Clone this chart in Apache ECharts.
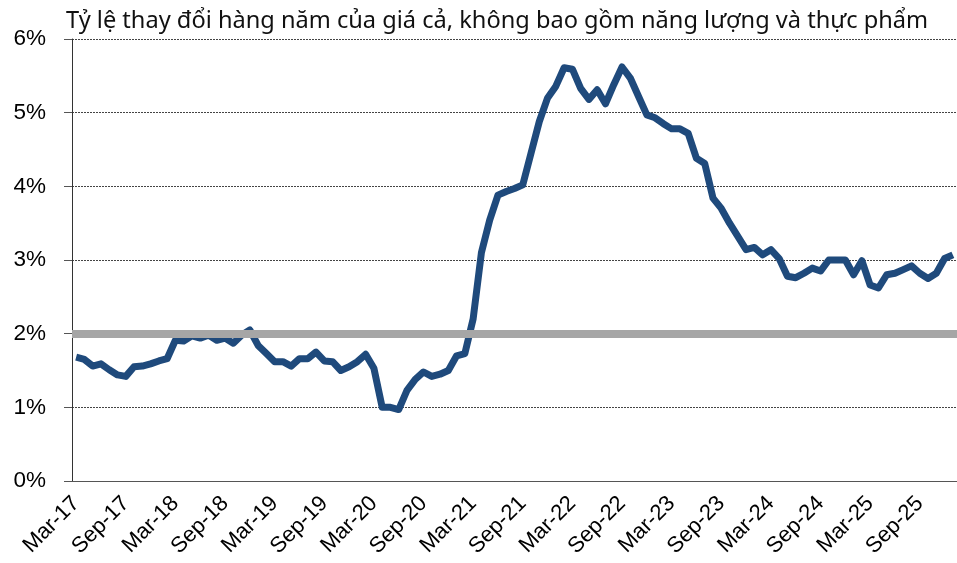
<!DOCTYPE html>
<html>
<head>
<meta charset="utf-8">
<script src="https://cdn.jsdelivr.net/npm/echarts@6/dist/echarts.min.js"></script>
<style>
  html, body { margin: 0; padding: 0; background: #fff; }
  #chart { width: 957px; height: 563px; }
</style>
</head>
<body>
<div id="chart"></div>
<script>
// monthly, Mar-17 .. Jan-26
const monthNames = ['Jan', 'Feb', 'Mar', 'Apr', 'May', 'Jun', 'Jul', 'Aug', 'Sep', 'Oct', 'Nov', 'Dec']
const startYear = 2017
const startMonth = 2 // Mar
const monthCount = 107

const coreRate = [
  1.68, 1.65, 1.56, 1.59, 1.51, 1.44, 1.42, 1.55, 1.56, 1.59,
  1.63, 1.66, 1.91, 1.90, 1.97, 1.94, 1.98, 1.91, 1.94, 1.87, 1.98, 2.05,
  1.84, 1.73, 1.62, 1.62, 1.56, 1.66, 1.66, 1.75, 1.63, 1.62, 1.50, 1.55,
  1.62, 1.72, 1.53, 1.00, 1.00, 0.97, 1.23, 1.38, 1.48, 1.42, 1.45, 1.50,
  1.70, 1.73, 2.20, 3.10, 3.54, 3.88, 3.93, 3.97, 4.02, 4.45, 4.88, 5.20,
  5.36, 5.61, 5.59, 5.33, 5.18, 5.31, 5.12, 5.38, 5.62, 5.47, 5.22, 4.97,
  4.93, 4.85, 4.78, 4.78, 4.72, 4.38, 4.31, 3.84, 3.70, 3.50, 3.32, 3.14,
  3.17, 3.07, 3.14, 3.02, 2.78, 2.76, 2.82, 2.89, 2.85, 3.00, 3.00, 3.00,
  2.80, 2.99, 2.66, 2.62, 2.80, 2.82, 2.87, 2.92, 2.82, 2.75, 2.82, 3.02,
  3.07
]
const targetRate = 2
const titleText = 'Tỷ lệ thay đổi hàng năm của giá cả, không bao gồm năng lượng và thực phẩm'

const categories = []
for (let i = 0; i < monthCount; i++) {
  const m = (startMonth + i) % 12
  const y = startYear + Math.floor((startMonth + i) / 12)
  categories.push(monthNames[m] + '-' + String(y).slice(2))
}

const chart = echarts.init(document.getElementById('chart'))
const option = {
  backgroundColor: '#ffffff',
  animation: false,
  title: {
    text: titleText,
    left: 61,
    top: 4,
    textStyle: {
      fontFamily: 'Noto Sans',
      fontWeight: 'normal',
      fontSize: 23.6,
      color: '#111'
    }
  },
  grid: {
    left: 72,
    right: 0,
    top: 39,
    bottom: 82,
    containLabel: false
  },
  xAxis: {
    type: 'category',
    data: categories,
    boundaryGap: true,
    axisLine: {
      lineStyle: { color: '#555', width: 1 }
    },
    axisTick: {
      interval: 5,
      length: 6,
      lineStyle: { color: '#555' }
    },
    axisLabel: {
      interval: 5,
      rotate: 45,
      margin: 19,
      fontFamily: 'Liberation Sans',
      fontSize: 22,
      color: '#000'
    },
    splitLine: { show: false }
  },
  yAxis: {
    type: 'value',
    min: 0,
    max: 6,
    interval: 1,
    axisLine: {
      show: true,
      lineStyle: { color: '#333', width: 1 }
    },
    axisTick: {
      show: true,
      length: 8,
      lineStyle: { color: '#555' }
    },
    axisLabel: {
      formatter: '{value}%',
      margin: 26,
      fontFamily: 'Liberation Sans',
      fontSize: 22.5,
      color: '#000'
    },
    splitLine: {
      lineStyle: { color: '#444', width: 1, type: [2, 1] }
    }
  },
  series: [
    {
      name: 'core',
      type: 'line',
      data: coreRate,
      showSymbol: false,
      symbol: 'none',
      z: 2,
      lineStyle: {
        color: '#1F4A7C',
        width: 7,
        join: 'round'
      }
    },
    {
      name: 'target',
      type: 'line',
      data: [],
      z: 5,
      markLine: {
        silent: true,
        symbol: ['none', 'none'],
        label: { show: false },
        lineStyle: { color: '#A6A6A6', width: 8, type: 'solid' },
        data: [{ yAxis: targetRate }]
      }
    }
  ]
}
chart.setOption(option)
</script>
</body>
</html>
